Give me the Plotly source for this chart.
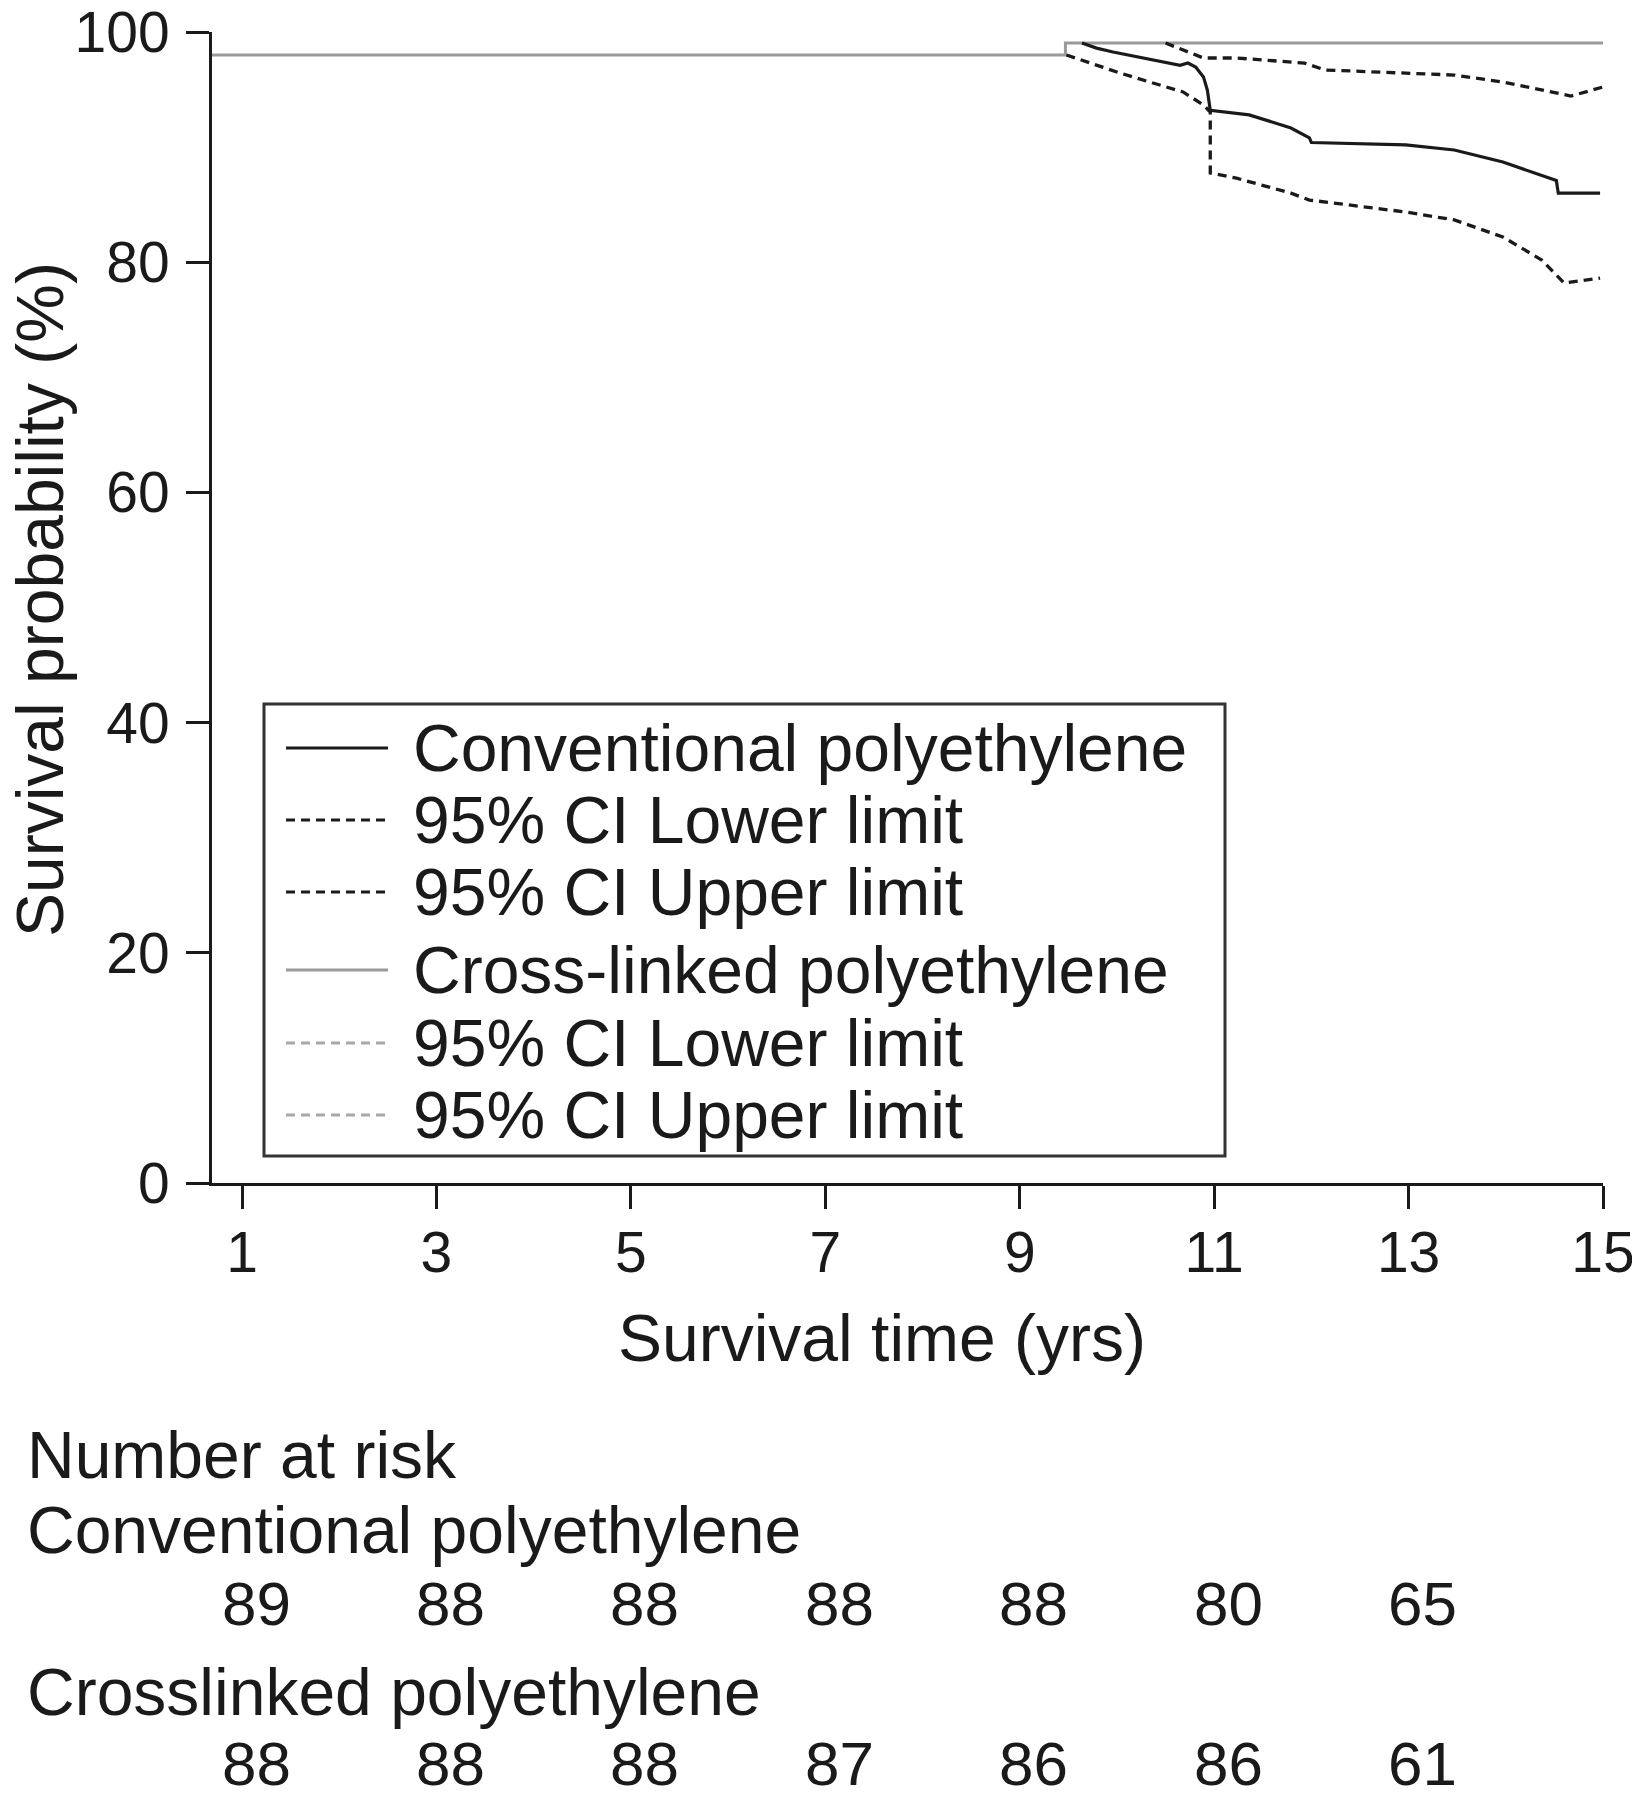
import plotly.graph_objects as go

# ---------------- data ----------------
conv_time = [9.64, 9.79, 9.96, 10.30, 10.65, 10.73, 10.81, 10.89, 10.93, 10.96, 11.36, 11.79, 11.98, 12.00, 12.97, 13.47, 13.97, 14.52, 14.54, 14.97]
conv_surv = [99.04, 98.6, 98.26, 97.7, 97.1, 97.3, 96.96, 96.1, 94.96, 93.2, 92.8, 91.66, 90.8, 90.4, 90.2, 89.75, 88.7, 87.1, 86.0, 86.0]

conv_lo_time = [9.48, 10.03, 10.37, 10.68, 10.89, 10.96, 10.96, 11.23, 11.79, 11.98, 12.97, 13.47, 13.97, 14.37, 14.60, 14.97]
conv_lo_surv = [98.0, 96.44, 95.57, 94.79, 93.66, 93.05, 87.75, 87.3, 86.0, 85.4, 84.36, 83.67, 82.19, 80.19, 78.19, 78.62]

conv_hi_time = [10.50, 10.76, 10.89, 11.23, 11.93, 12.14, 12.97, 13.47, 13.97, 14.47, 14.67, 15.0]
conv_hi_surv = [99.04, 98.18, 97.74, 97.74, 97.3, 96.7, 96.44, 96.26, 95.65, 94.79, 94.44, 95.22]

xl_time = [0, 9.47, 9.47, 15]
xl_surv = [98.0, 98.0, 99.04, 99.04]

x_ticks = [1, 3, 5, 7, 9, 11, 13, 15]
y_ticks = [0, 20, 40, 60, 80, 100]

risk_times = [1, 3, 5, 7, 9, 11, 13]
risk_conv = [89, 88, 88, 88, 88, 80, 65]
risk_xl = [88, 88, 88, 87, 86, 86, 61]

legend_labels = ["Conventional polyethylene", "95% CI Lower limit", "95% CI Upper limit",
                 "Cross-linked polyethylene", "95% CI Lower limit", "95% CI Upper limit"]

# ---------------- styles ----------------
FONT = "Liberation Sans"
INK = "#1a1a1a"
GREY = "#9a9a9a"
GREY_DASH = "#a8a8a8"
DASH = "9px,6px"
TXT = 66

fig = go.Figure()
fig.add_trace(go.Scatter(x=xl_time, y=xl_surv, mode="lines", name=legend_labels[3],
                         line=dict(color=GREY, width=3), showlegend=False))
fig.add_trace(go.Scatter(x=conv_lo_time, y=conv_lo_surv, mode="lines", name=legend_labels[1],
                         line=dict(color=INK, width=3.3, dash=DASH), showlegend=False))
fig.add_trace(go.Scatter(x=conv_hi_time, y=conv_hi_surv, mode="lines", name=legend_labels[2],
                         line=dict(color=INK, width=3.3, dash=DASH), showlegend=False))
fig.add_trace(go.Scatter(x=conv_time, y=conv_surv, mode="lines", name=legend_labels[0],
                         line=dict(color=INK, width=3.2), showlegend=False))

# page offset: the browser adds an 8px body margin
OFF = 8
# plot area in page pixels
L, R, T, B = 212, 1603, 32, 1183
def px(xp):
    return (xp - L) / (R - L)
def py(yp):
    return (B - yp) / (B - T)

shapes = [dict(type="rect", xref="paper", yref="paper",
               x0=px(264), x1=px(1225), y0=py(1156), y1=py(704),
               line=dict(color="#333333", width=3), fillcolor="rgba(0,0,0,0)")]
row_y = [748, 820, 892, 970, 1043, 1115]
sample_styles = [(INK, "solid"), (INK, DASH), (INK, DASH),
                 (GREY, "solid"), (GREY_DASH, DASH), (GREY_DASH, DASH)]
annotations = []
for lab, ry, (col, dsh) in zip(legend_labels, row_y, sample_styles):
    shapes.append(dict(type="line", xref="paper", yref="paper",
                       x0=px(286), x1=px(388), y0=py(ry), y1=py(ry),
                       line=dict(color=col, width=3, dash=dsh)))
    annotations.append(dict(text=lab, xref="paper", yref="paper", x=px(411), y=py(ry),
                            xanchor="left", yanchor="middle", showarrow=False,
                            font=dict(family=FONT, size=TXT, color=INK)))

# axis titles
annotations.append(dict(text="Survival time (yrs)", xref="paper", yref="paper",
                        x=px(882), y=py(1338), xanchor="center", yanchor="middle",
                        showarrow=False, font=dict(family=FONT, size=TXT, color=INK)))
annotations.append(dict(text="Survival probability (%)", xref="paper", yref="paper",
                        x=px(40), y=py(600), xanchor="center", yanchor="middle", textangle=-90,
                        showarrow=False, font=dict(family=FONT, size=TXT, color=INK)))

# number at risk table
for txt, ty in [("Number at risk", 1455), ("Conventional polyethylene", 1530),
                ("Crosslinked polyethylene", 1692)]:
    annotations.append(dict(text=txt, xref="paper", yref="paper", x=px(25), y=py(ty),
                            xanchor="left", yanchor="middle", showarrow=False,
                            font=dict(family=FONT, size=TXT, color=INK)))
for vals, ty in [(risk_conv, 1603), (risk_xl, 1763)]:
    for t, v in zip(risk_times, vals):
        annotations.append(dict(text=str(v), xref="x", yref="paper", x=t, y=py(ty),
                                xshift=14, xanchor="center", yanchor="middle", showarrow=False,
                                font=dict(family=FONT, size=62, color=INK)))

W, H = 1640 - OFF, 1800 - OFF
fig.update_layout(
    width=W, height=H,
    margin=dict(l=L - OFF, r=W - (R - OFF), t=T - OFF, b=H - (B - OFF), autoexpand=False),
    paper_bgcolor="white", plot_bgcolor="white",
    showlegend=False,
    shapes=shapes, annotations=annotations,
    font=dict(family=FONT, color=INK),
)
fig.update_xaxes(range=[0.691, 15], tickvals=x_ticks, ticktext=[str(v) for v in x_ticks],
                 showgrid=False, zeroline=False, showline=True, linewidth=3, linecolor=INK,
                 ticks="outside", ticklen=23, tickwidth=3, tickcolor=INK,
                 tickfont=dict(family=FONT, size=57, color=INK), ticklabelstandoff=-5,
                 ticklabeloverflow="allow")
fig.update_yaxes(range=[0, 100], tickvals=y_ticks, ticktext=[str(v) for v in y_ticks],
                 showgrid=False, zeroline=False, showline=True, linewidth=3, linecolor=INK,
                 ticks="outside", ticklen=23, tickwidth=3, tickcolor=INK,
                 tickfont=dict(family=FONT, size=57, color=INK), ticklabelstandoff=5,
                 ticklabeloverflow="allow")

fig.write_html("out.html")
